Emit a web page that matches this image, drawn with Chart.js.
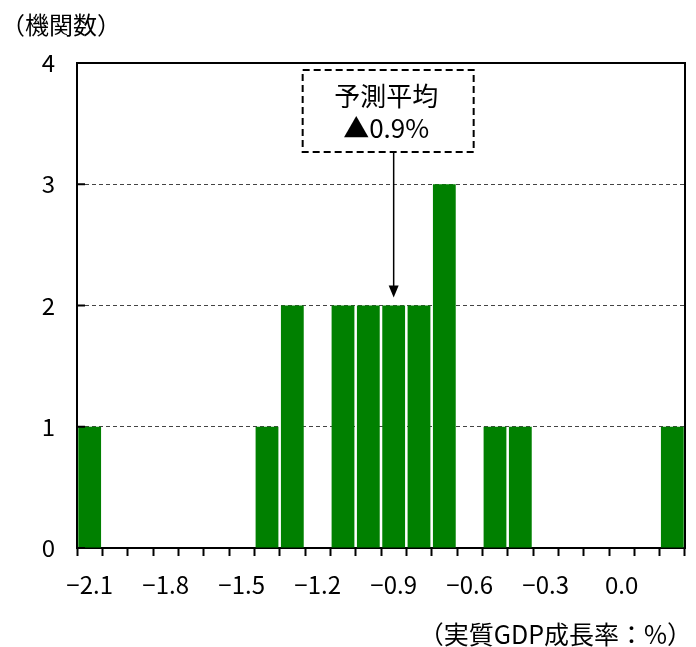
<!DOCTYPE html>
<html>
<head>
<meta charset="utf-8">
<script src="https://cdn.jsdelivr.net/npm/chart.js@4"></script>
<style>
  html, body { margin: 0; padding: 0; background: #fff; }
  #wrap { position: relative; width: 696px; height: 647px; }
</style>
</head>
<body>
<div id="wrap"><canvas id="histChart" width="696" height="647"></canvas></div>
<script>
// growth rate bins (real GDP, %) and number of forecasters in each
const categories = ['-2.1', '-2.0', '-1.9', '-1.8', '-1.7', '-1.6', '-1.5', '-1.4', '-1.3', '-1.2',
  '-1.1', '-1.0', '-0.9', '-0.8', '-0.7', '-0.6', '-0.5', '-0.4', '-0.3', '-0.2', '-0.1', '0.0', '0.1', '0.2'];
const counts = [1, 0, 0, 0, 0, 0, 0, 1, 2, 0, 2, 2, 2, 2, 3, 0, 1, 1, 0, 0, 0, 0, 0, 1];
const yTicks = [0, 1, 2, 3, 4];

const yTitle = '（機関数）';
const xTitle = '（実質GDP成長率：%）';
const avgLabel = ['予測平均', '▲0.9%'];
const avgCategory = '-0.9';
const avgCount = 2;

const FONT = '"Noto Sans CJK JP", "Noto Sans", sans-serif';

// frame, inner y tick marks, axis titles and the average callout
const extrasPlugin = {
    id: 'extras',
    afterDraw(chart) {
        const { ctx, chartArea: a, scales } = chart;
        const x = scales.x, y = scales.y;
        ctx.save();

        // top and right border
        ctx.strokeStyle = '#000';
        ctx.lineWidth = 2;
        ctx.beginPath();
        ctx.moveTo(a.left, a.top);
        ctx.lineTo(a.right, a.top);
        ctx.lineTo(a.right, a.bottom);
        ctx.stroke();

        // short tick marks on the inside of the y axis
        yTicks.forEach(v => {
            const py = y.getPixelForValue(v);
            ctx.beginPath();
            ctx.moveTo(a.left, py);
            ctx.lineTo(a.left + 8, py);
            ctx.stroke();
        });

        ctx.fillStyle = '#000';
        ctx.textBaseline = 'middle';
        ctx.textAlign = 'left';
        ctx.font = '24px ' + FONT;
        ctx.fillText(yTitle, 1, 25);
        ctx.textAlign = 'right';
        ctx.font = '25px ' + FONT;
        ctx.fillText(xTitle, 692, 634);

        // callout box with arrow to the average
        const ax = x.getPixelForValue(categories.indexOf(avgCategory));
        const tipY = y.getPixelForValue(avgCount) - 8;
        const bx = ax - 91, bw = 171, by = 70, bh = 82;
        ctx.setLineDash([7, 4]);
        ctx.lineWidth = 2;
        ctx.fillStyle = '#fff';
        ctx.fillRect(bx, by, bw, bh);
        ctx.strokeRect(bx, by, bw, bh);
        ctx.setLineDash([]);

        ctx.fillStyle = '#000';
        ctx.textAlign = 'center';
        ctx.font = '26px ' + FONT;
        ctx.fillText(avgLabel[0], bx + bw / 2 - 2, by + 26);
        ctx.fillText(avgLabel[1], bx + bw / 2 - 2, by + 58);

        ctx.lineWidth = 1.5;
        ctx.beginPath();
        ctx.moveTo(ax, by + bh);
        ctx.lineTo(ax, tipY - 10);
        ctx.stroke();
        ctx.beginPath();
        ctx.moveTo(ax - 5, tipY - 12);
        ctx.lineTo(ax + 5, tipY - 12);
        ctx.lineTo(ax, tipY);
        ctx.closePath();
        ctx.fill();

        ctx.restore();
    }
};

const ctx = document.getElementById('histChart').getContext('2d');
new Chart(ctx, {
    type: 'bar',
    data: {
        labels: categories,
        datasets: [{
            data: counts,
            backgroundColor: '#008000',
            borderWidth: 0,
            barPercentage: 0.9,
            categoryPercentage: 1.0
        }]
    },
    options: {
        responsive: false,
        animation: false,
        layout: { padding: { top: 63, right: 11, bottom: 0, left: 0 } },
        plugins: {
            legend: { display: false },
            tooltip: { enabled: false }
        },
        scales: {
            x: {
                offset: true,
                grid: {
                    offset: true,
                    drawOnChartArea: false,
                    drawTicks: true,
                    tickLength: 8,
                    tickColor: '#000',
                    tickWidth: 2
                },
                border: { color: '#000', width: 2 },
                ticks: {
                    autoSkip: false,
                    maxRotation: 0,
                    padding: 14,
                    color: '#000',
                    font: { family: FONT, size: 24 },
                    callback: (v, i) => i % 3 === 0 ? categories[i].replace('-', '−') : ''
                },
                afterFit: s => { s.height = 99; }
            },
            y: {
                min: 0,
                max: 4,
                ticks: {
                    stepSize: 1,
                    padding: 22,
                    color: '#000',
                    font: { family: FONT, size: 24 }
                },
                grid: {
                    color: '#444',
                    lineWidth: 1,
                    drawTicks: false
                },
                border: { color: '#000', width: 2, dash: [4, 3] },
                afterFit: s => { s.width = 77; }
            }
        }
    },
    plugins: [extrasPlugin]
});
</script>
</body>
</html>
